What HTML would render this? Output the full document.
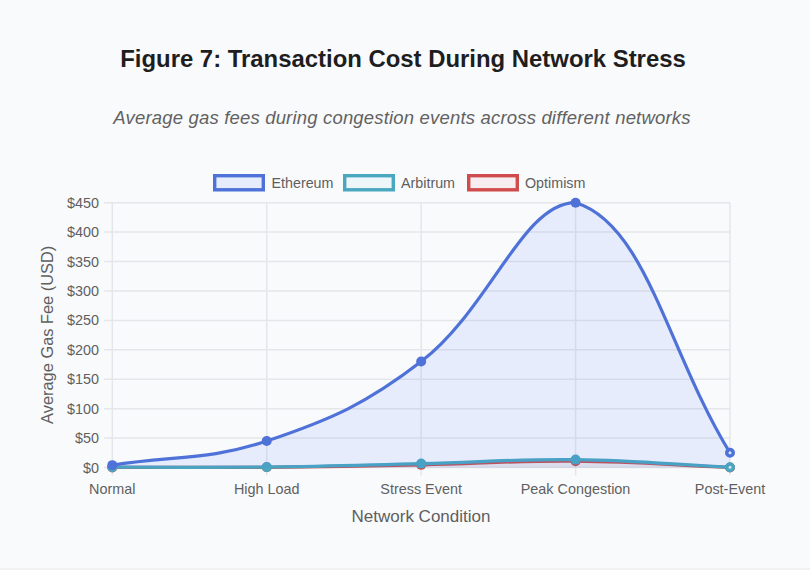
<!DOCTYPE html>
<html><head><meta charset="utf-8"><style>
html,body{margin:0;padding:0;width:810px;height:570px;overflow:hidden;background:#f9fafc;}
body{font-family:"Liberation Sans",sans-serif;position:relative;}
svg{position:absolute;left:0;top:0;}
.tk{font-size:14.4px;fill:#5f5f5f;}
.lg{font-size:14.3px;fill:#5f5f5f;}
</style></head><body>
<svg width="810" height="570" viewBox="0 0 810 570">
<text x="403" y="67.4" text-anchor="middle" style="font-size:23.9px;font-weight:bold;fill:#1e1e1e">Figure 7: Transaction Cost During Network Stress</text>
<text x="402" y="124" text-anchor="middle" style="font-size:18.5px;font-style:italic;fill:#626262;letter-spacing:0.18px">Average gas fees during congestion events across different networks</text>
<rect x="214.7" y="175.7" width="48.6" height="14.1" fill="rgba(70,115,245,0.1)" stroke="#4f72d8" stroke-width="3.4"/>
<text x="271.5" y="187.8" class="lg">Ethereum</text>
<rect x="344.7" y="175.7" width="48.6" height="14.1" fill="rgba(54,185,204,0.06)" stroke="#4aa7c0" stroke-width="3.4"/>
<text x="401" y="187.8" class="lg">Arbitrum</text>
<rect x="468.7" y="175.7" width="48.6" height="14.1" fill="rgba(231,74,100,0.08)" stroke="#d04b4b" stroke-width="3.4"/>
<text x="525" y="187.8" class="lg">Optimism</text>
<line x1="104" y1="202.70" x2="730.00" y2="202.70" stroke="#e5e6e9" stroke-width="1.5"/>
<line x1="104" y1="232.12" x2="730.00" y2="232.12" stroke="#e5e6e9" stroke-width="1.5"/>
<line x1="104" y1="261.54" x2="730.00" y2="261.54" stroke="#e5e6e9" stroke-width="1.5"/>
<line x1="104" y1="290.97" x2="730.00" y2="290.97" stroke="#e5e6e9" stroke-width="1.5"/>
<line x1="104" y1="320.39" x2="730.00" y2="320.39" stroke="#e5e6e9" stroke-width="1.5"/>
<line x1="104" y1="349.81" x2="730.00" y2="349.81" stroke="#e5e6e9" stroke-width="1.5"/>
<line x1="104" y1="379.23" x2="730.00" y2="379.23" stroke="#e5e6e9" stroke-width="1.5"/>
<line x1="104" y1="408.66" x2="730.00" y2="408.66" stroke="#e5e6e9" stroke-width="1.5"/>
<line x1="104" y1="438.08" x2="730.00" y2="438.08" stroke="#e5e6e9" stroke-width="1.5"/>
<line x1="104" y1="467.50" x2="730.00" y2="467.50" stroke="#e5e6e9" stroke-width="1.5"/>
<line x1="112.30" y1="202.70" x2="112.30" y2="475.50" stroke="#e5e6e9" stroke-width="1.5"/>
<line x1="266.73" y1="202.70" x2="266.73" y2="475.50" stroke="#e5e6e9" stroke-width="1.5"/>
<line x1="421.15" y1="202.70" x2="421.15" y2="475.50" stroke="#e5e6e9" stroke-width="1.5"/>
<line x1="575.58" y1="202.70" x2="575.58" y2="475.50" stroke="#e5e6e9" stroke-width="1.5"/>
<line x1="730.00" y1="202.70" x2="730.00" y2="475.50" stroke="#e5e6e9" stroke-width="1.5"/>
<clipPath id="ca"><rect x="106.30" y="196.70" width="629.70" height="276.80"/></clipPath>
<g><path d="M112.30,467.38 C174.07,467.36 204.96,467.50 266.73,467.32 C328.50,466.82 359.38,466.09 421.15,464.85 C482.92,463.62 513.82,460.63 575.58,461.14 C637.36,461.66 668.23,464.92 730.00,467.44 L730.00,467.50 L112.30,467.50 Z" fill="rgba(231,74,100,0.08)"/>
<path d="M112.30,467.38 C174.07,467.36 204.96,467.50 266.73,467.32 C328.50,466.82 359.38,466.09 421.15,464.85 C482.92,463.62 513.82,460.63 575.58,461.14 C637.36,461.66 668.23,464.92 730.00,467.44" fill="none" stroke="#d04b4b" stroke-width="3.2"/>
<circle cx="112.30" cy="467.38" r="5" fill="#d04b4b"/>
<circle cx="266.73" cy="467.32" r="5" fill="#d04b4b"/>
<circle cx="421.15" cy="464.85" r="5" fill="#d04b4b"/>
<circle cx="575.58" cy="461.14" r="5" fill="#d04b4b"/>
<circle cx="730.00" cy="467.44" r="3.25" fill="#dfe7f7" stroke="#d04b4b" stroke-width="3.5"/>
<path d="M112.30,467.21 C174.07,467.16 204.96,467.50 266.73,467.09 C328.50,466.37 359.38,465.11 421.15,463.62 C482.92,462.12 513.83,458.87 575.58,459.61 C637.37,460.36 668.23,464.24 730.00,467.32 L730.00,467.50 L112.30,467.50 Z" fill="rgba(54,185,204,0.06)"/>
<path d="M112.30,467.21 C174.07,467.16 204.96,467.50 266.73,467.09 C328.50,466.37 359.38,465.11 421.15,463.62 C482.92,462.12 513.83,458.87 575.58,459.61 C637.37,460.36 668.23,464.24 730.00,467.32" fill="none" stroke="#4aa7c0" stroke-width="3.2"/>
<circle cx="112.30" cy="467.21" r="5" fill="#4aa7c0"/>
<circle cx="266.73" cy="467.09" r="5" fill="#4aa7c0"/>
<circle cx="421.15" cy="463.62" r="5" fill="#4aa7c0"/>
<circle cx="575.58" cy="459.61" r="5" fill="#4aa7c0"/>
<circle cx="730.00" cy="467.32" r="3.25" fill="#dfe7f7" stroke="#4aa7c0" stroke-width="3.5"/>
<path d="M112.30,465.15 C174.07,455.50 208.21,460.64 266.73,441.02 C331.75,419.22 366.87,403.47 421.15,361.58 C490.41,308.14 522.48,202.70 575.58,202.70 C646.02,223.50 668.23,352.75 730.00,452.79 L730.00,467.50 L112.30,467.50 Z" fill="rgba(70,115,245,0.1)"/>
<path d="M112.30,465.15 C174.07,455.50 208.21,460.64 266.73,441.02 C331.75,419.22 366.87,403.47 421.15,361.58 C490.41,308.14 522.48,202.70 575.58,202.70 C646.02,223.50 668.23,352.75 730.00,452.79" fill="none" stroke="#4f72d8" stroke-width="3.2"/>
<circle cx="112.30" cy="465.15" r="5" fill="#4f72d8"/>
<circle cx="266.73" cy="441.02" r="5" fill="#4f72d8"/>
<circle cx="421.15" cy="361.58" r="5" fill="#4f72d8"/>
<circle cx="575.58" cy="202.70" r="5" fill="#4f72d8"/>
<circle cx="730.00" cy="452.79" r="3.25" fill="#dfe7f7" stroke="#4f72d8" stroke-width="3.5"/>
</g>
<text x="99" y="207.70" text-anchor="end" class="tk">$450</text>
<text x="99" y="237.12" text-anchor="end" class="tk">$400</text>
<text x="99" y="266.54" text-anchor="end" class="tk">$350</text>
<text x="99" y="295.97" text-anchor="end" class="tk">$300</text>
<text x="99" y="325.39" text-anchor="end" class="tk">$250</text>
<text x="99" y="354.81" text-anchor="end" class="tk">$200</text>
<text x="99" y="384.23" text-anchor="end" class="tk">$150</text>
<text x="99" y="413.66" text-anchor="end" class="tk">$100</text>
<text x="99" y="443.08" text-anchor="end" class="tk">$50</text>
<text x="99" y="472.50" text-anchor="end" class="tk">$0</text>
<text x="112.30" y="494" text-anchor="middle" class="tk">Normal</text>
<text x="266.73" y="494" text-anchor="middle" class="tk">High Load</text>
<text x="421.15" y="494" text-anchor="middle" class="tk">Stress Event</text>
<text x="575.58" y="494" text-anchor="middle" class="tk">Peak Congestion</text>
<text x="730.00" y="494" text-anchor="middle" class="tk">Post-Event</text>

<text x="421" y="522.2" text-anchor="middle" style="font-size:17px;fill:#5f5f5f">Network Condition</text>
<text transform="translate(53,334.8) rotate(-90)" text-anchor="middle" style="font-size:16.4px;fill:#5f5f5f">Average Gas Fee (USD)</text>
<rect x="0" y="568" width="810" height="2" fill="#f1f2f4"/>
</svg>
</body></html>
